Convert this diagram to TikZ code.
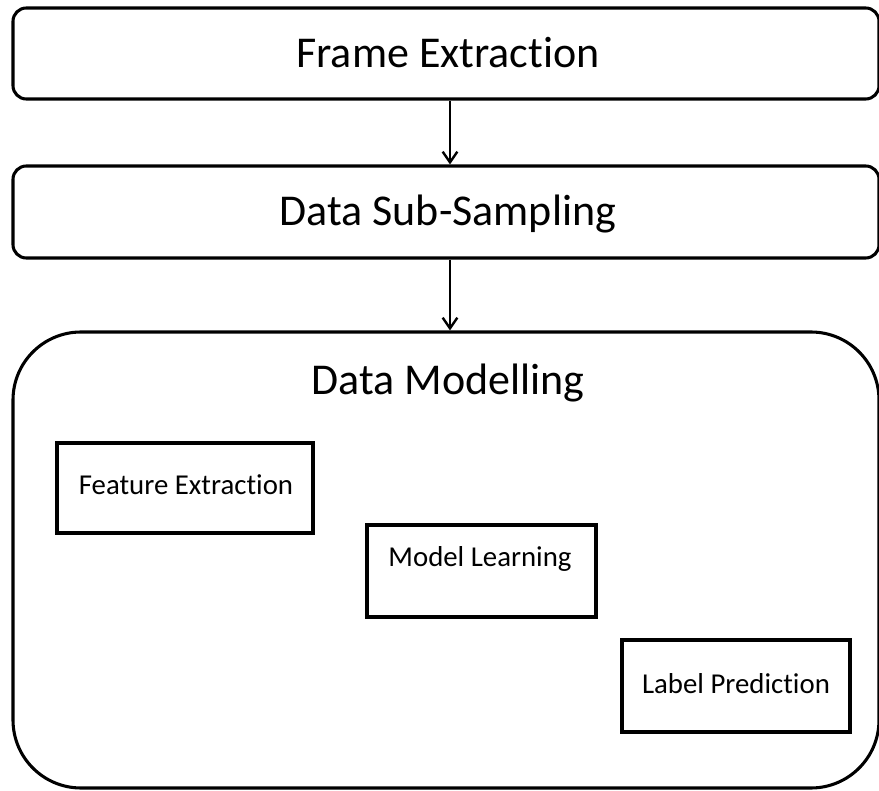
\documentclass[tikz,border=0pt]{standalone}
\usepackage{fontspec}
\setmainfont{Carlito}[Ligatures={NoCommon},RawFeature={-liga}]
\usetikzlibrary{arrows.meta}
\begin{document}
\begin{tikzpicture}[x=0.75pt,y=-0.75pt,
  stage/.style={draw=black,line width=2.3pt,rounded corners=10pt,inner sep=0pt},
  task/.style={draw=black,line width=2.3pt,inner sep=0pt},
  bigtxt/.style={anchor=base,inner sep=0pt,font=\fontsize{33}{39}\selectfont},
  smalltxt/.style={anchor=base,inner sep=0pt,font=\fontsize{21.6}{26}\selectfont},
  flow/.style={draw=black,line width=1.8pt,-{Straight Barb[length=8pt,width=11pt,line width=1.8pt]}}]
\useasboundingbox (0,0) rectangle (879,791);
\fill[white] (0,0) rectangle (879,791);

% pipeline stages
\node[stage,minimum width=866*0.75pt,minimum height=91*0.75pt] (frame) at (446,53.5) {};
\node[stage,minimum width=866*0.75pt,minimum height=92*0.75pt] (sub) at (446,212) {};
\node[stage,rounded corners=51pt,minimum width=866*0.75pt,minimum height=456*0.75pt] (model) at (446,560) {};

\node[bigtxt] (frameT) at (448,68) {Frame Extraction};
\node[bigtxt] (subT) at (448,226) {Data Sub-Sampling};
\node[bigtxt] (modelT) at (448,395) {Data Modelling};

% sub-tasks of the modelling stage
\node[task,minimum width=256*0.75pt,minimum height=90*0.75pt] (feat) at (185,488) {};
\node[task,minimum width=229*0.75pt,minimum height=92*0.75pt] (learn) at (481.5,571) {};
\node[task,minimum width=228*0.75pt,minimum height=92*0.75pt] (pred) at (736,686) {};

\node[smalltxt] (featT) at (186,495) {Feature Extraction};
\node[smalltxt] (learnT) at (480,567) {Model Learning};
\node[smalltxt] (predT) at (736,693) {Label Prediction};

% connectors
\coordinate (ax) at (450,0);
\draw[flow] (frame.south -| ax) -- (sub.north -| ax);
\draw[flow] (sub.south -| ax) -- (model.north -| ax);
\end{tikzpicture}
\end{document}
